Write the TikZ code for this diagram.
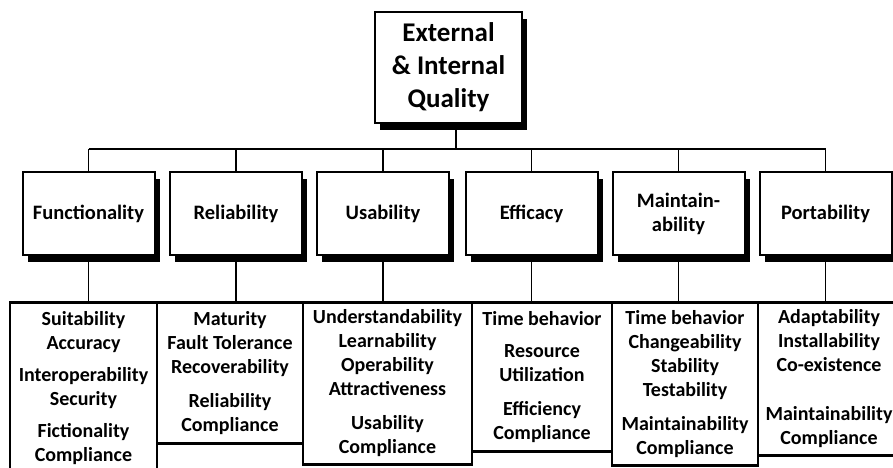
\documentclass[tikz,border=0pt]{standalone}
\usepackage{fontspec}
\setmainfont{Carlito}
\usepackage{tikz}
\usetikzlibrary{shadows}

\begin{document}
\begin{tikzpicture}[x=1pt, y=-1pt]
	% STYLES
	\tikzstyle{topbox} = [draw=black, line width=2pt, fill=white, minimum width=147pt, minimum height=111pt,
		align=center, font=\fontsize{27}{32}\selectfont\bfseries,
		drop shadow={shadow xshift=5pt, shadow yshift=-7pt, opacity=1, fill=black}]
	\tikzstyle{midbox} = [draw=black, line width=2pt, fill=white, minimum width=132pt, minimum height=83pt,
		align=center, font=\fontsize{20.5}{24}\selectfont\bfseries,
		drop shadow={shadow xshift=5pt, shadow yshift=-7pt, opacity=1, fill=black}]
	\tikzstyle{subbox} = [draw=black, line width=2.5pt, anchor=north, inner sep=0pt,
		align=center, font=\fontsize{20}{24}\selectfont\bfseries]
	\tikzstyle{ligne} = [line width=1.5pt, draw=black]

	\useasboundingbox (0, 0) rectangle (893, 467);

	% TOP
	\node[topbox] (quality) at (448.5, 67.5) {External\\[1pt]\& Internal\\[1pt]Quality};

	% CHARACTERISTICS
	\node[midbox] (func) at (88.5, 213.5) {Functionality};
	\node[midbox] (reli) at (236, 213.5) {Reliability};
	\node[midbox] (usab) at (383, 213.5) {Usability};
	\node[midbox] (effi) at (531.5, 213.5) {Efficacy};
	\node[midbox] (main) at (678.5, 213.5) {Maintain-\\ability};
	\node[midbox] (port) at (825.5, 213.5) {Portability};

	% SUB-CHARACTERISTICS
	\node[subbox, minimum width=147pt, minimum height=172pt] (funcsub) at (83.5, 301)
		{Suitability\\Accuracy\\[8pt]Interoperability\\Security\\[8pt]Fictionality\\Compliance};
	\node[subbox, minimum width=146pt, minimum height=141pt] (relisub) at (230, 301)
		{Maturity\\Fault Tolerance\\Recoverability\\[10pt]Reliability\\Compliance};
	\node[subbox, minimum width=169pt, minimum height=162pt] (usabsub) at (387.5, 301)
		{Understandability\\Learnability\\Operability\\Attractiveness\\[10pt]Usability\\Compliance};
	\node[subbox, minimum width=140pt, minimum height=149pt] (effisub) at (542, 301)
		{Time behavior\\[8pt]Resource\\Utilization\\[10pt]Efficiency\\Compliance};
	\node[subbox, minimum width=146pt, minimum height=163pt] (mainsub) at (685, 301)
		{Time behavior\\Changeability\\Stability\\Testability\\[10pt]Maintainability\\Compliance};
	\node[subbox, minimum width=142pt, minimum height=153pt] (portsub) at (829, 301)
		{Adaptability\\Installability\\Co-existence\\[25pt]Maintainability\\Compliance};

	% LINES
	\coordinate (bus) at (456, 149);
	\draw[ligne] ([xshift=7.5pt]quality.south) -- (bus);
	\draw[ligne] (func |- bus) -- (port |- bus);
	\draw[ligne] (func |- bus) -- (func.north);
	\draw[ligne] (reli |- bus) -- (reli.north);
	\draw[ligne] (usab |- bus) -- (usab.north);
	\draw[ligne] (effi |- bus) -- (effi.north);
	\draw[ligne] (main |- bus) -- (main.north);
	\draw[ligne] (port |- bus) -- (port.north);

	\draw[ligne] (func.south) -- (func.south |- funcsub.north);
	\draw[ligne] (reli.south) -- (reli.south |- relisub.north);
	\draw[ligne] (usab.south) -- (usab.south |- usabsub.north);
	\draw[ligne] (effi.south) -- (effi.south |- effisub.north);
	\draw[ligne] (main.south) -- (main.south |- mainsub.north);
	\draw[ligne] (port.south) -- (port.south |- portsub.north);

\end{tikzpicture}
\end{document}
